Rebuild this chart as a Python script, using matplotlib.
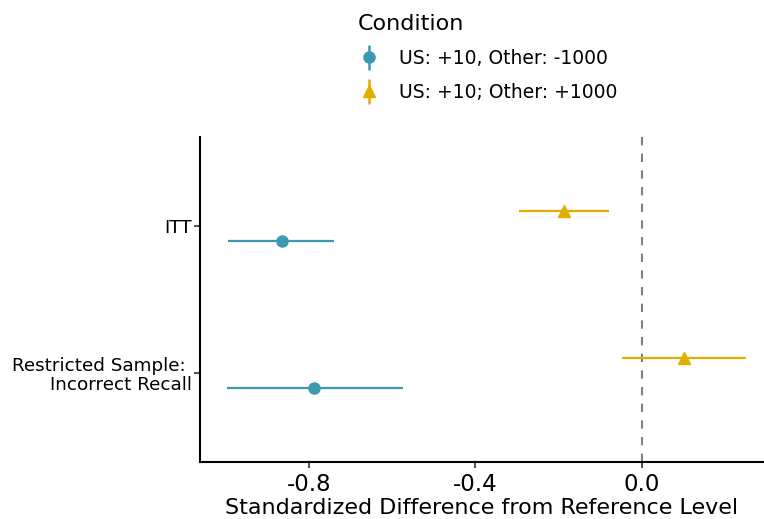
import matplotlib
matplotlib.use("Agg")
import matplotlib.pyplot as plt
from matplotlib.lines import Line2D
import numpy as np

# Data
categories = ["Restricted Sample: \nIncorrect Recall", "ITT"]
conditions = ["US: +10, Other: -1000", "US: +10; Other: +1000"]
estimates = {
    "US: +10, Other: -1000": [-0.787, -0.865],
    "US: +10; Other: +1000": [0.100, -0.186],
}
lower = {
    "US: +10, Other: -1000": [-0.996, -0.993],
    "US: +10; Other: +1000": [-0.049, -0.296],
}
upper = {
    "US: +10, Other: -1000": [-0.574, -0.739],
    "US: +10; Other: +1000": [0.250, -0.079],
}
colors = {"US: +10, Other: -1000": "#3B9AB2", "US: +10; Other: +1000": "#E1AF00"}
markers = {"US: +10, Other: -1000": "o", "US: +10; Other: +1000": "^"}
offsets = {"US: +10, Other: -1000": -0.1, "US: +10; Other: +1000": 0.1}

plt.rcParams['font.family'] = ['DejaVu Sans']

fig = plt.figure(figsize=(7.64, 5.19), dpi=100)
ax = fig.add_axes([200/764, 57/519, 1 - 200/764, (462-137)/519])

ypos = np.arange(1, len(categories) + 1)

ax.axvline(0, color="#808080", linestyle=(0, (4, 4)), linewidth=1.5, zorder=1)

handles = []
for c in conditions:
    y = ypos + offsets[c]
    est = np.array(estimates[c])
    lo = np.array(lower[c])
    hi = np.array(upper[c])
    ax.hlines(y, lo, hi, color=colors[c], linewidth=1.6, zorder=2)
    ms = 8 if markers[c] == "o" else 9
    ax.plot(est, y, linestyle="", marker=markers[c], color=colors[c],
            markersize=ms, zorder=3)
    h1 = Line2D([], [], linestyle="", marker="|", markersize=18,
                markeredgewidth=1.8, color=colors[c])
    h2 = Line2D([], [], linestyle="", marker=markers[c], markersize=ms,
                color=colors[c])
    handles.append((h1, h2))

ax.set_xlim(-1.061, 0.293)
ax.set_ylim(0.395, 2.605)
ax.set_yticks(ypos)
ax.set_yticklabels(categories, fontsize=13.2, linespacing=1.05)
ax.set_xticks([-0.8, -0.4, 0.0])
ax.set_xticklabels(["-0.8", "-0.4", "0.0"], fontsize=16.5)
ax.set_xlabel("Standardized Difference from Reference Level", fontsize=16, labelpad=1)

for s in ["top", "right"]:
    ax.spines[s].set_visible(False)
for s in ["left", "bottom"]:
    ax.spines[s].set_linewidth(1.5)
    ax.spines[s].set_color("black")
ax.tick_params(axis="both", length=4, width=1.2, color="#333333")
ax.tick_params(axis="x", pad=4)
ax.tick_params(axis="y", pad=2)

leg = fig.legend(handles, conditions, loc="upper left",
                 bbox_to_anchor=(341/764, 1.0 + 3/519), frameon=False,
                 title="Condition", title_fontsize=16, fontsize=13.5,
                 alignment="left", handlelength=1.2, handletextpad=1.0,
                 labelspacing=0.8)

fig.savefig("out.png", dpi=100)
